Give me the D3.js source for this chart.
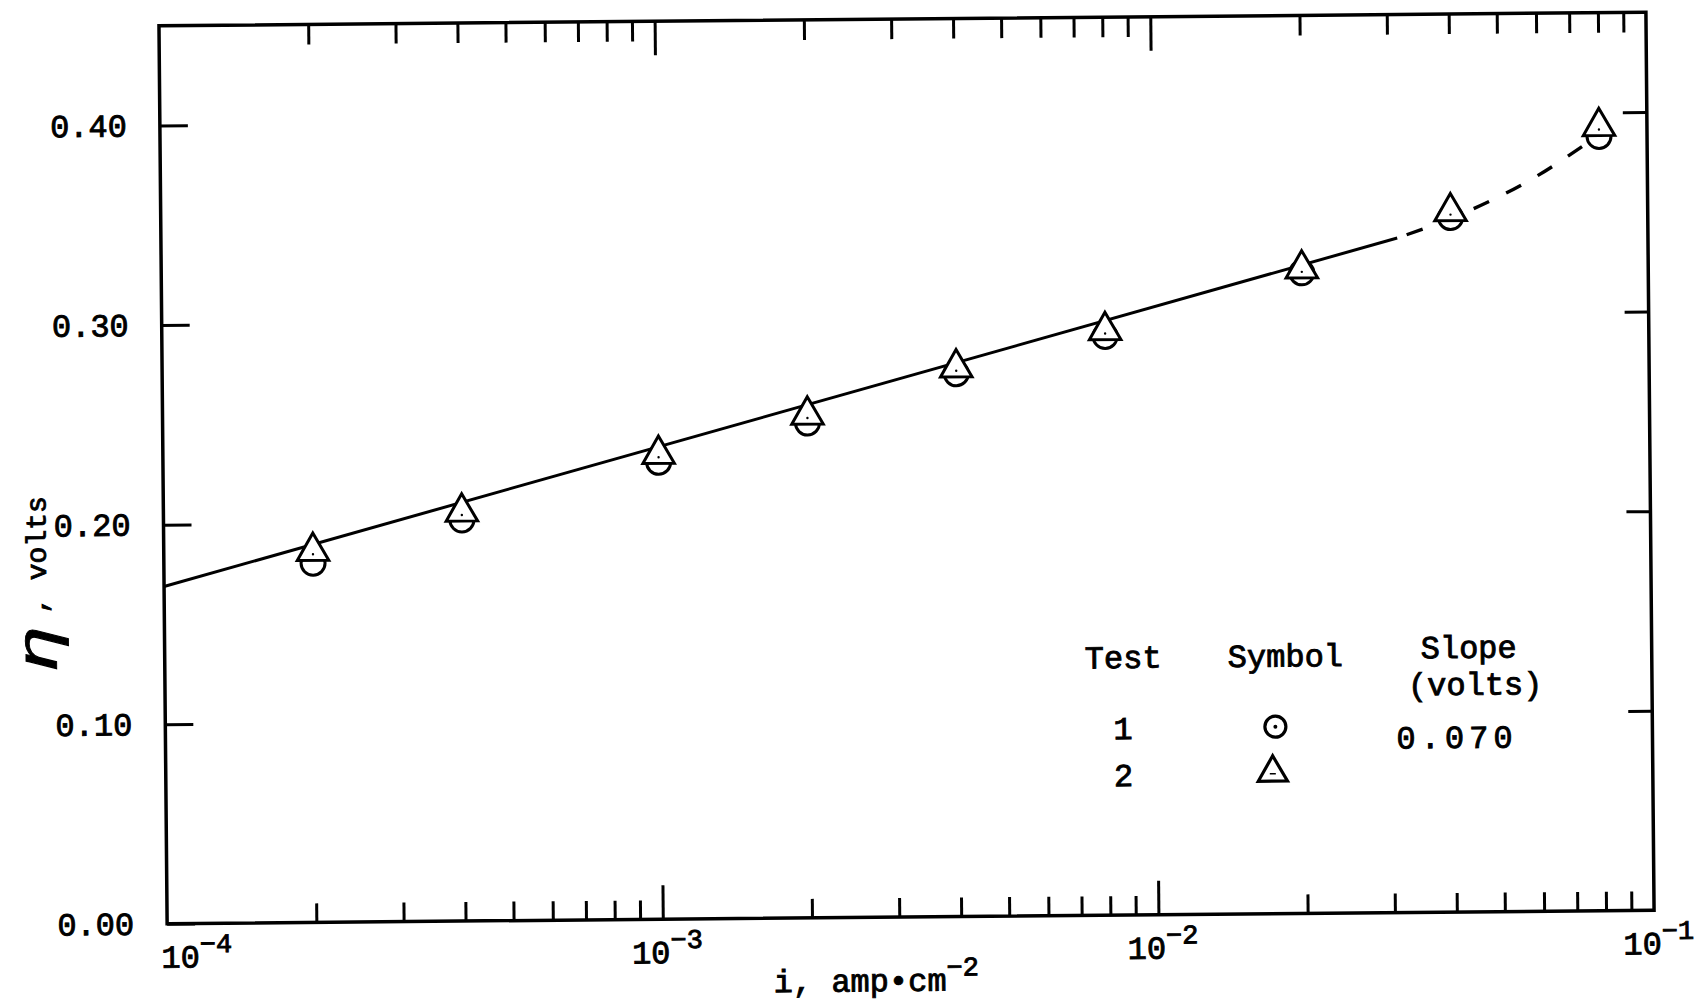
<!DOCTYPE html>
<html>
<head>
<meta charset="utf-8">
<script src="https://cdn.jsdelivr.net/npm/d3@7"></script>
<style>
  body { margin: 0; background: #fff; }
  svg { display: block; }
  text { font-family: "Liberation Mono", "DejaVu Sans Mono", monospace; fill: #000; stroke: #000; stroke-width: 0.9px; }
</style>
</head>
<body>
<svg id="chart" width="1696" height="1004"></svg>
<script>
// values
const currents = [2e-4, 4e-4, 1e-3, 2e-3, 4e-3, 8e-3, 2e-2, 4e-2, 8e-2];
const test1Eta = [0.180, 0.201, 0.229, 0.248, 0.272, 0.290, 0.321, 0.348, 0.388];
const test2Eta = [0.186, 0.205, 0.233, 0.252, 0.275, 0.293, 0.323, 0.351, 0.393];
const fitSolid = [[1e-4, 0.169], [3.12e-2, 0.338]];
const fitDashed = [[3.12e-2, 0.338], [4.42e-2, 0.352], [5.9e-2, 0.3675], [7.6e-2, 0.385]];
const yTicks = [0, 0.1, 0.2, 0.3, 0.4];
const xDecades = [1e-4, 1e-3, 1e-2, 1e-1];
const xExponents = ["\u22124", "\u22123", "\u22122", "\u22121"];
const legendTests = ["1", "2"];
const legendSlope = "0.070";

// layout
const PLOT = { left: 163, right: 1650, top: 19, bottom: 917 };
const SKEW = -0.52;  // the scanned page sits slightly rotated
const INK = "#000";

const svg = d3.select("#chart");
svg.append("rect").attr("width", 1696).attr("height", 1004).attr("fill", "#fff").attr("stroke", "none");
const g = svg.append("g").attr("transform", `rotate(${SKEW}, 906, 466)`);

const x = d3.scaleLog().domain([1e-4, 1e-1]).range([PLOT.left, PLOT.right]);
const y = d3.scaleLinear().domain([0, 0.45]).range([PLOT.bottom, PLOT.top]);

// minor ticks 2..9 inside every decade
const xMinor = [];
xDecades.slice(0, -1).forEach(d => {
    for (let k = 2; k <= 9; k++) xMinor.push(d * k);
});
const xInnerMajor = xDecades.slice(1, -1);

function styleAxis(sel) {
    sel.select(".domain").remove();
    sel.selectAll(".tick line").attr("stroke", INK).attr("stroke-width", 3);
    sel.attr("font-family", null).attr("font-size", null);
}

// bottom ticks
g.append("g").attr("transform", `translate(0,${PLOT.bottom})`)
    .call(d3.axisBottom(x).tickValues(xMinor).tickSize(-19).tickFormat(""))
    .call(styleAxis);
g.append("g").attr("transform", `translate(0,${PLOT.bottom})`)
    .call(d3.axisBottom(x).tickValues(xInnerMajor).tickSize(-34).tickFormat(""))
    .call(styleAxis);

// top ticks
g.append("g").attr("transform", `translate(0,${PLOT.top})`)
    .call(d3.axisTop(x).tickValues(xMinor).tickSize(-20).tickFormat(""))
    .call(styleAxis);
g.append("g").attr("transform", `translate(0,${PLOT.top})`)
    .call(d3.axisTop(x).tickValues(xInnerMajor).tickSize(-34).tickFormat(""))
    .call(styleAxis);

// left axis with labels
const yAxisG = g.append("g").attr("transform", `translate(${PLOT.left},0)`)
    .call(d3.axisLeft(y).tickValues(yTicks).tickSize(-28).tickPadding(33).tickFormat(d3.format(".2f")))
    .call(styleAxis);
yAxisG.selectAll(".tick text")
    .attr("font-size", 32)
    .attr("fill", INK);

// right axis
g.append("g").attr("transform", `translate(${PLOT.right},0)`)
    .call(d3.axisRight(y).tickValues(yTicks.slice(1)).tickSize(-24).tickFormat(""))
    .call(styleAxis);

// frame
g.append("rect")
    .attr("x", PLOT.left).attr("y", PLOT.top)
    .attr("width", PLOT.right - PLOT.left).attr("height", PLOT.bottom - PLOT.top)
    .attr("fill", "none").attr("stroke", INK).attr("stroke-width", 3.5);

// x tick labels 10^n
const xLab = g.append("g").selectAll("text")
    .data(xDecades)
    .join("text")
    .attr("x", (d, i) => x(d) + (i === 0 ? -6 : -31))
    .attr("y", PLOT.bottom + 44)
    .attr("font-size", 32);
xLab.append("tspan").text("10");
xLab.append("tspan")
    .attr("font-size", 27)
    .attr("dy", -15)
    .text((d, i) => xExponents[i]);

// axis titles
const xTitle = g.append("text")
    .attr("x", 769).attr("y", 991)
    .attr("font-size", 32);
xTitle.append("tspan").text("i, amp\u2022cm");
xTitle.append("tspan").attr("font-size", 27).attr("dy", -15).text("\u22122");

g.append("text")
    .attr("transform", "translate(55,664) rotate(-90) scale(1.35,1)")
    .attr("font-family", "DejaVu Serif")
    .attr("font-style", "italic")
    .attr("stroke-width", 0.4)
    .attr("font-size", 58)
    .text("\u03b7");
g.append("text")
    .attr("transform", "translate(45,606) rotate(-90)")
    .attr("font-size", 28)
    .text(", volts");

// fitted line, solid then dashed
const line = d3.line().x(d => x(d[0])).y(d => y(d[1]));
g.append("path")
    .attr("d", line(fitSolid))
    .attr("fill", "none").attr("stroke", INK).attr("stroke-width", 3);
g.append("path")
    .attr("d", line.curve(d3.curveMonotoneX)(fitDashed))
    .attr("fill", "none").attr("stroke", INK).attr("stroke-width", 3.4)
    .attr("stroke-dasharray", "0,10,17,9");

// test 1 circles (drawn first, triangles hide their top half)
g.append("g").selectAll("circle")
    .data(currents)
    .join("circle")
    .attr("cx", d => x(d))
    .attr("cy", (d, i) => y(test1Eta[i]))
    .attr("r", 12)
    .attr("fill", "#fff").attr("stroke", INK).attr("stroke-width", 3);

// test 2 triangles
const tri = d3.symbol().type(d3.symbolTriangle).size(430);
const triG = g.append("g").selectAll("g")
    .data(currents)
    .join("g")
    .attr("transform", (d, i) => `translate(${x(d)},${y(test2Eta[i])})`);
triG.append("path")
    .attr("d", tri)
    .attr("fill", "#fff").attr("stroke", INK).attr("stroke-width", 3)
    .attr("stroke-linejoin", "miter");
triG.append("circle").attr("cy", 3).attr("r", 1.2).attr("fill", INK);

// legend
const leg = g.append("g");
leg.append("text").attr("x", 1083).attr("y", 670).attr("font-size", 32).text("Test");
leg.append("text").attr("x", 1226).attr("y", 670).attr("font-size", 32).text("Symbol");
leg.append("text").attr("x", 1419).attr("y", 663).attr("font-size", 32).text("Slope");
leg.append("text").attr("x", 1406).attr("y", 700).attr("font-size", 32).text("(volts)");
leg.selectAll(".num")
    .data(legendTests)
    .join("text")
    .attr("class", "num")
    .attr("x", 1111)
    .attr("y", (d, i) => 741 + i * 47)
    .attr("font-size", 32)
    .text(d => d);
leg.append("text").attr("x", 1394).attr("y", 753).attr("font-size", 32)
    .attr("letter-spacing", 5).text(legendSlope);
leg.append("circle").attr("cx", 1273).attr("cy", 730).attr("r", 10.5)
    .attr("fill", "#fff").attr("stroke", INK).attr("stroke-width", 3.2);
leg.append("circle").attr("cx", 1273).attr("cy", 730).attr("r", 2).attr("fill", INK);
leg.append("path")
    .attr("transform", "translate(1270,776)")
    .attr("d", d3.symbol().type(d3.symbolTriangle).size(370)())
    .attr("fill", "#fff").attr("stroke", INK).attr("stroke-width", 3.2);
leg.append("line")
    .attr("x1", 1267).attr("x2", 1273).attr("y1", 777).attr("y2", 777)
    .attr("stroke", INK).attr("stroke-width", 1.5);
</script>
</body>
</html>
